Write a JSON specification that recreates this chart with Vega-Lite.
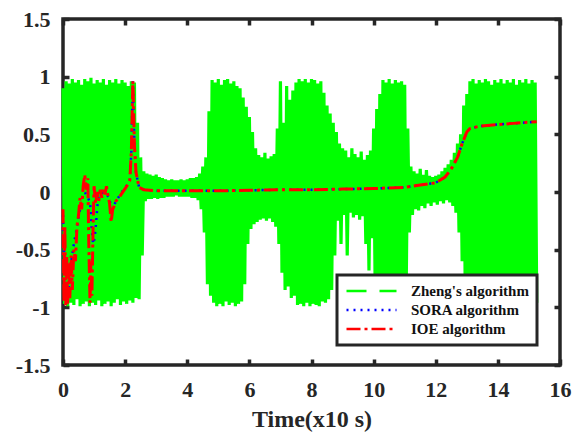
{
"$schema":"https://vega.github.io/schema/vega-lite/v6.json",
"width":497,"height":346,
"autosize":{"type":"none"},
"padding":{"left":63,"top":19,"right":13,"bottom":68},
"background":"white",
"config":{
 "view":{"stroke":"#262626","strokeWidth":3.5},
 "font":"Liberation Serif",
 "axis":{"labelFont":"Liberation Serif","labelFontWeight":"bold","labelFontSize":22,"labelColor":"#262626","titleFont":"Liberation Serif","titleFontWeight":"bold","titleFontSize":24,"titleColor":"#262626","tickColor":"#262626","tickWidth":3.5,"tickSize":-6,"domain":false,"grid":false},
 "legend":{"labelFont":"Liberation Serif","labelFontWeight":"bold","labelFontSize":15,"labelColor":"#111111","symbolType":"stroke","symbolSize":2500,"symbolStrokeWidth":2.5,"fillColor":"white","strokeColor":"#262626","padding":8,"labelOffset":13,"rowPadding":3,"clipHeight":16}
},
"datasets":{
 "zheng":[
{"t":0.00,"v":0.90},{"t":0.05,"v":-0.97},{"t":0.10,"v":0.96},{"t":0.15,"v":-0.99},{"t":0.20,"v":0.94},{"t":0.25,"v":-0.96},{"t":0.30,"v":0.98},{"t":0.35,"v":-0.98},{"t":0.40,"v":0.95},{"t":0.45,"v":-0.93},
{"t":0.50,"v":0.97},{"t":0.55,"v":-0.99},{"t":0.60,"v":0.93},{"t":0.65,"v":-0.97},{"t":0.70,"v":0.98},{"t":0.75,"v":-0.95},{"t":0.80,"v":0.96},{"t":0.85,"v":-0.99},{"t":0.90,"v":0.99},{"t":0.95,"v":-0.96},
{"t":1.00,"v":0.94},{"t":1.05,"v":-0.98},{"t":1.10,"v":0.97},{"t":1.15,"v":-0.94},{"t":1.20,"v":0.95},{"t":1.25,"v":-0.99},{"t":1.30,"v":0.98},{"t":1.35,"v":-0.97},{"t":1.40,"v":0.93},{"t":1.45,"v":-0.95},
{"t":1.50,"v":0.97},{"t":1.55,"v":-0.99},{"t":1.60,"v":0.95},{"t":1.65,"v":-0.96},{"t":1.70,"v":0.98},{"t":1.75,"v":-0.93},{"t":1.80,"v":0.94},{"t":1.85,"v":-0.98},{"t":1.90,"v":0.97},{"t":1.95,"v":-0.95},
{"t":2.00,"v":0.95},{"t":2.05,"v":-0.97},{"t":2.10,"v":0.92},{"t":2.15,"v":-0.94},{"t":2.20,"v":0.96},{"t":2.25,"v":-0.96},{"t":2.30,"v":0.95},{"t":2.35,"v":-0.92},{"t":2.40,"v":0.60},{"t":2.45,"v":-0.93},
{"t":2.50,"v":0.30},{"t":2.55,"v":-0.55},{"t":2.60,"v":0.18},{"t":2.65,"v":-0.08},{"t":2.70,"v":0.16},{"t":2.75,"v":-0.06},{"t":2.80,"v":0.15},{"t":2.85,"v":-0.06},{"t":2.90,"v":0.14},{"t":2.95,"v":-0.05},
{"t":3.00,"v":0.15},{"t":3.05,"v":-0.06},{"t":3.10,"v":0.13},{"t":3.15,"v":-0.05},{"t":3.20,"v":0.12},{"t":3.25,"v":-0.05},{"t":3.30,"v":0.11},{"t":3.35,"v":-0.04},{"t":3.40,"v":0.10},{"t":3.45,"v":-0.04},
{"t":3.50,"v":0.11},{"t":3.55,"v":-0.04},{"t":3.60,"v":0.10},{"t":3.65,"v":-0.03},{"t":3.70,"v":0.10},{"t":3.75,"v":-0.04},{"t":3.80,"v":0.11},{"t":3.85,"v":-0.04},{"t":3.90,"v":0.10},{"t":3.95,"v":-0.04},
{"t":4.00,"v":0.11},{"t":4.05,"v":-0.04},{"t":4.10,"v":0.12},{"t":4.15,"v":-0.05},{"t":4.20,"v":0.12},{"t":4.25,"v":-0.05},{"t":4.30,"v":0.13},{"t":4.35,"v":-0.07},{"t":4.40,"v":0.16},{"t":4.45,"v":-0.15},
{"t":4.50,"v":0.22},{"t":4.55,"v":-0.35},{"t":4.60,"v":0.30},{"t":4.65,"v":-0.80},{"t":4.70,"v":0.70},{"t":4.75,"v":-0.90},{"t":4.80,"v":0.97},{"t":4.85,"v":-0.96},{"t":4.90,"v":0.95},{"t":4.95,"v":-0.99},
{"t":5.00,"v":0.98},{"t":5.05,"v":-0.97},{"t":5.10,"v":0.93},{"t":5.15,"v":-0.99},{"t":5.20,"v":0.97},{"t":5.25,"v":-0.95},{"t":5.30,"v":0.98},{"t":5.35,"v":-0.98},{"t":5.40,"v":0.94},{"t":5.45,"v":-0.96},
{"t":5.50,"v":0.96},{"t":5.55,"v":-0.99},{"t":5.60,"v":0.92},{"t":5.65,"v":-0.97},{"t":5.70,"v":0.90},{"t":5.75,"v":-0.95},{"t":5.80,"v":0.82},{"t":5.85,"v":-0.80},{"t":5.90,"v":0.74},{"t":5.95,"v":-0.45},
{"t":6.00,"v":0.65},{"t":6.05,"v":-0.32},{"t":6.10,"v":0.52},{"t":6.15,"v":-0.28},{"t":6.20,"v":0.38},{"t":6.25,"v":-0.26},{"t":6.30,"v":0.32},{"t":6.35,"v":-0.24},{"t":6.40,"v":0.30},{"t":6.45,"v":-0.23},
{"t":6.50,"v":0.34},{"t":6.55,"v":-0.25},{"t":6.60,"v":0.29},{"t":6.65,"v":-0.23},{"t":6.70,"v":0.31},{"t":6.75,"v":-0.26},{"t":6.80,"v":0.33},{"t":6.85,"v":-0.30},{"t":6.90,"v":0.55},{"t":6.95,"v":-0.45},
{"t":7.00,"v":0.96},{"t":7.05,"v":-0.70},{"t":7.10,"v":0.60},{"t":7.15,"v":-0.85},{"t":7.20,"v":0.92},{"t":7.25,"v":-0.82},{"t":7.30,"v":0.80},{"t":7.35,"v":-0.92},{"t":7.40,"v":0.88},{"t":7.45,"v":-0.90},
{"t":7.50,"v":0.95},{"t":7.55,"v":-0.98},{"t":7.60,"v":0.98},{"t":7.65,"v":-0.97},{"t":7.70,"v":0.96},{"t":7.75,"v":-0.99},{"t":7.80,"v":0.98},{"t":7.85,"v":-0.96},{"t":7.90,"v":0.95},{"t":7.95,"v":-0.99},
{"t":8.00,"v":0.98},{"t":8.05,"v":-0.97},{"t":8.10,"v":0.97},{"t":8.15,"v":-0.98},{"t":8.20,"v":0.94},{"t":8.25,"v":-0.99},{"t":8.30,"v":0.96},{"t":8.35,"v":-0.95},{"t":8.40,"v":0.86},{"t":8.45,"v":-0.96},
{"t":8.50,"v":0.75},{"t":8.55,"v":-0.93},{"t":8.60,"v":0.68},{"t":8.65,"v":-0.85},{"t":8.70,"v":0.60},{"t":8.75,"v":-0.55},{"t":8.80,"v":0.52},{"t":8.85,"v":-0.25},{"t":8.90,"v":0.42},{"t":8.95,"v":-0.45},
{"t":9.00,"v":0.38},{"t":9.05,"v":-0.20},{"t":9.10,"v":0.36},{"t":9.15,"v":-0.55},{"t":9.20,"v":0.30},{"t":9.25,"v":-0.18},{"t":9.30,"v":0.38},{"t":9.35,"v":-0.22},{"t":9.40,"v":0.33},{"t":9.45,"v":-0.20},
{"t":9.50,"v":0.30},{"t":9.55,"v":-0.24},{"t":9.60,"v":0.35},{"t":9.65,"v":-0.21},{"t":9.70,"v":0.28},{"t":9.75,"v":-0.45},{"t":9.80,"v":0.32},{"t":9.85,"v":-0.68},{"t":9.90,"v":0.36},{"t":9.95,"v":-0.40},
{"t":10.00,"v":0.55},{"t":10.05,"v":-0.85},{"t":10.10,"v":0.72},{"t":10.15,"v":-0.96},{"t":10.20,"v":0.85},{"t":10.25,"v":-0.98},{"t":10.30,"v":0.97},{"t":10.35,"v":-0.97},{"t":10.40,"v":0.95},{"t":10.45,"v":-0.99},
{"t":10.50,"v":0.98},{"t":10.55,"v":-0.96},{"t":10.60,"v":0.94},{"t":10.65,"v":-0.98},{"t":10.70,"v":0.97},{"t":10.75,"v":-0.99},{"t":10.80,"v":0.95},{"t":10.85,"v":-0.97},{"t":10.90,"v":0.96},{"t":10.95,"v":-0.95},
{"t":11.00,"v":0.93},{"t":11.05,"v":-0.80},{"t":11.10,"v":0.55},{"t":11.15,"v":-0.35},{"t":11.20,"v":0.22},{"t":11.25,"v":-0.20},{"t":11.30,"v":0.18},{"t":11.35,"v":-0.15},{"t":11.40,"v":0.16},{"t":11.45,"v":-0.16},
{"t":11.50,"v":0.20},{"t":11.55,"v":-0.12},{"t":11.60,"v":0.15},{"t":11.65,"v":-0.14},{"t":11.70,"v":0.19},{"t":11.75,"v":-0.10},{"t":11.80,"v":0.14},{"t":11.85,"v":-0.12},{"t":11.90,"v":0.13},{"t":11.95,"v":-0.09},
{"t":12.00,"v":0.14},{"t":12.05,"v":-0.11},{"t":12.10,"v":0.15},{"t":12.15,"v":-0.08},{"t":12.20,"v":0.18},{"t":12.25,"v":-0.10},{"t":12.30,"v":0.21},{"t":12.35,"v":-0.07},{"t":12.40,"v":0.24},{"t":12.45,"v":-0.09},
{"t":12.50,"v":0.28},{"t":12.55,"v":-0.12},{"t":12.60,"v":0.34},{"t":12.65,"v":-0.18},{"t":12.70,"v":0.42},{"t":12.75,"v":-0.35},{"t":12.80,"v":0.50},{"t":12.85,"v":-0.60},{"t":12.90,"v":0.75},{"t":12.95,"v":-0.90},
{"t":13.00,"v":0.85},{"t":13.05,"v":-0.97},{"t":13.10,"v":0.96},{"t":13.15,"v":-0.99},{"t":13.20,"v":0.98},{"t":13.25,"v":-0.96},{"t":13.30,"v":0.94},{"t":13.35,"v":-0.98},{"t":13.40,"v":0.97},{"t":13.45,"v":-0.97},
{"t":13.50,"v":0.95},{"t":13.55,"v":-0.99},{"t":13.60,"v":0.98},{"t":13.65,"v":-0.96},{"t":13.70,"v":0.96},{"t":13.75,"v":-0.98},{"t":13.80,"v":0.93},{"t":13.85,"v":-0.97},{"t":13.90,"v":0.97},{"t":13.95,"v":-0.99},
{"t":14.00,"v":0.95},{"t":14.05,"v":-0.96},{"t":14.10,"v":0.98},{"t":14.15,"v":-0.98},{"t":14.20,"v":0.94},{"t":14.25,"v":-0.97},{"t":14.30,"v":0.97},{"t":14.35,"v":-0.99},{"t":14.40,"v":0.95},{"t":14.45,"v":-0.96},
{"t":14.50,"v":0.98},{"t":14.55,"v":-0.98},{"t":14.60,"v":0.93},{"t":14.65,"v":-0.97},{"t":14.70,"v":0.97},{"t":14.75,"v":-0.99},{"t":14.80,"v":0.95},{"t":14.85,"v":-0.96},{"t":14.90,"v":0.98},{"t":14.95,"v":-0.98},
{"t":15.00,"v":0.94},{"t":15.05,"v":-0.97},{"t":15.10,"v":0.97},{"t":15.15,"v":-0.99},{"t":15.20,"v":0.95},{"t":15.25,"v":-0.96}
 ],
 "sora":[
{"t":0.00,"v":-0.20},{"t":0.05,"v":-0.70},{"t":0.10,"v":-0.97},{"t":0.15,"v":-0.90},{"t":0.20,"v":-0.80},{"t":0.27,"v":-0.60},{"t":0.35,"v":-0.45},{"t":0.42,"v":-0.35},{"t":0.49,"v":-0.23},{"t":0.55,"v":-0.15},
{"t":0.62,"v":-0.05},{"t":0.70,"v":0.00},{"t":0.80,"v":-0.05},{"t":0.87,"v":-0.09},{"t":0.92,"v":-0.30},{"t":0.97,"v":-0.45},{"t":1.02,"v":-0.40},{"t":1.07,"v":-0.25},{"t":1.12,"v":-0.08},{"t":1.20,"v":-0.02},
{"t":1.30,"v":0.00},{"t":1.40,"v":-0.02},{"t":1.50,"v":-0.05},{"t":1.55,"v":-0.18},{"t":1.60,"v":-0.15},{"t":1.70,"v":-0.08},{"t":1.80,"v":-0.04},{"t":1.90,"v":0.00},{"t":2.00,"v":0.04},{"t":2.10,"v":0.07},
{"t":2.15,"v":0.10},{"t":2.20,"v":0.35},{"t":2.25,"v":0.96},{"t":2.30,"v":0.40},{"t":2.35,"v":0.17},{"t":2.45,"v":0.04},{"t":2.60,"v":0.02},{"t":3.00,"v":0.01},{"t":4.00,"v":0.01},{"t":5.00,"v":0.01},
{"t":6.00,"v":0.015},{"t":7.00,"v":0.02},{"t":8.00,"v":0.02},{"t":9.00,"v":0.025},{"t":10.00,"v":0.03},{"t":10.50,"v":0.035},{"t":11.00,"v":0.04},{"t":11.50,"v":0.06},{"t":12.00,"v":0.08},{"t":12.30,"v":0.13},
{"t":12.50,"v":0.20},{"t":12.70,"v":0.30},{"t":12.85,"v":0.42},{"t":13.00,"v":0.52},{"t":13.10,"v":0.55},{"t":13.40,"v":0.57},{"t":14.00,"v":0.585},{"t":14.50,"v":0.595},{"t":15.25,"v":0.61}
 ],
 "ioe":[
{"t":0.00,"v":-0.15},{"t":0.03,"v":-0.95},{"t":0.06,"v":-0.30},{"t":0.09,"v":-0.99},{"t":0.12,"v":-0.55},{"t":0.15,"v":-0.98},{"t":0.18,"v":-0.60},{"t":0.22,"v":-0.92},{"t":0.26,"v":-0.55},{"t":0.30,"v":-0.85},
{"t":0.35,"v":-0.50},{"t":0.40,"v":-0.60},{"t":0.45,"v":-0.30},{"t":0.50,"v":-0.20},{"t":0.55,"v":-0.05},{"t":0.60,"v":-0.15},{"t":0.65,"v":0.05},{"t":0.70,"v":0.15},{"t":0.75,"v":0.02},{"t":0.80,"v":0.12},
{"t":0.83,"v":-0.45},{"t":0.87,"v":-0.96},{"t":0.90,"v":-0.60},{"t":0.93,"v":-0.90},{"t":0.97,"v":-0.30},{"t":1.00,"v":0.05},{"t":1.05,"v":-0.10},{"t":1.10,"v":0.00},{"t":1.15,"v":-0.08},{"t":1.20,"v":0.02},
{"t":1.25,"v":-0.05},{"t":1.30,"v":0.03},{"t":1.35,"v":-0.02},{"t":1.40,"v":0.05},{"t":1.45,"v":-0.03},{"t":1.50,"v":-0.10},{"t":1.55,"v":-0.26},{"t":1.60,"v":-0.15},{"t":1.65,"v":-0.12},{"t":1.70,"v":-0.08},
{"t":1.80,"v":-0.05},{"t":1.90,"v":-0.01},{"t":2.00,"v":0.03},{"t":2.10,"v":0.07},{"t":2.15,"v":0.10},{"t":2.20,"v":0.35},{"t":2.25,"v":0.96},{"t":2.30,"v":0.40},{"t":2.35,"v":0.17},{"t":2.45,"v":0.04},
{"t":2.60,"v":0.02},{"t":3.00,"v":0.01},{"t":4.00,"v":0.01},{"t":5.00,"v":0.01},{"t":6.00,"v":0.015},{"t":7.00,"v":0.02},{"t":8.00,"v":0.02},{"t":9.00,"v":0.025},{"t":10.00,"v":0.03},{"t":10.50,"v":0.035},
{"t":11.00,"v":0.04},{"t":11.50,"v":0.06},{"t":12.00,"v":0.08},{"t":12.30,"v":0.13},{"t":12.50,"v":0.20},{"t":12.70,"v":0.30},{"t":12.85,"v":0.42},{"t":13.00,"v":0.52},{"t":13.10,"v":0.55},{"t":13.40,"v":0.57},
{"t":14.00,"v":0.585},{"t":14.50,"v":0.595},{"t":15.25,"v":0.61}
 ]
},
"layer":[
 {
  "data":{"name":"zheng"},
  "mark":{"type":"line","strokeWidth":3.2},
  "encoding":{
   "x":{"field":"t","type":"quantitative","scale":{"domain":[0,16],"nice":false,"zero":false},
        "axis":{"orient":"bottom","values":[0,2,4,6,8,10,12,14,16],"title":"Time(x10 s)","labelPadding":20,"titlePadding":7,"labelFlush":false}},
   "y":{"field":"v","type":"quantitative","scale":{"domain":[-1.5,1.5],"nice":false,"zero":false},
        "axis":{"orient":"left","values":[-1.5,-1,-0.5,0,0.5,1,1.5],"title":null,"labelPadding":19,
                "labelExpr":"datum.value < 0 ? '-' + format(-datum.value, '~g') : format(datum.value, '~g')"}},
   "color":{"datum":"Zheng's algorithm","type":"nominal",
            "scale":{"domain":["Zheng's algorithm","SORA algorithm","IOE algorithm"],"range":["#00ff00","#0000ff","#ff0000"]},
            "legend":{"title":null,"orient":"none","legendX":274,"legendY":256,"encode":{"legend":{"update":{"strokeWidth":{"value":3}}}}}}
  }
 },
 {
  "data":{"name":"sora"},
  "mark":{"type":"line","strokeWidth":2.5},
  "encoding":{
   "x":{"field":"t","type":"quantitative","axis":{"orient":"top","values":[0,2,4,6,8,10,12,14,16],"title":null,"labels":false}},
   "y":{"field":"v","type":"quantitative","axis":{"orient":"right","values":[-1.5,-1,-0.5,0,0.5,1,1.5],"title":null,"labels":false}},
   "color":{"datum":"SORA algorithm","type":"nominal"},
   "strokeDash":{"datum":"SORA algorithm","type":"nominal",
            "scale":{"domain":["Zheng's algorithm","SORA algorithm","IOE algorithm"],"range":[[20,13],[2,5],[14,4,3,4]]},
            "legend":{"title":null,"orient":"none","legendX":274,"legendY":256,"encode":{"legend":{"update":{"strokeWidth":{"value":3}}}}}}
  }
 },
 {
  "data":{"name":"ioe"},
  "mark":{"type":"line","strokeWidth":3},
  "encoding":{
   "x":{"field":"t","type":"quantitative","axis":null},
   "y":{"field":"v","type":"quantitative","axis":null},
   "color":{"datum":"IOE algorithm","type":"nominal"},
   "strokeDash":{"datum":"IOE algorithm","type":"nominal"}
  }
 }
],
"resolve":{"axis":{"x":"independent","y":"independent"}}
}
